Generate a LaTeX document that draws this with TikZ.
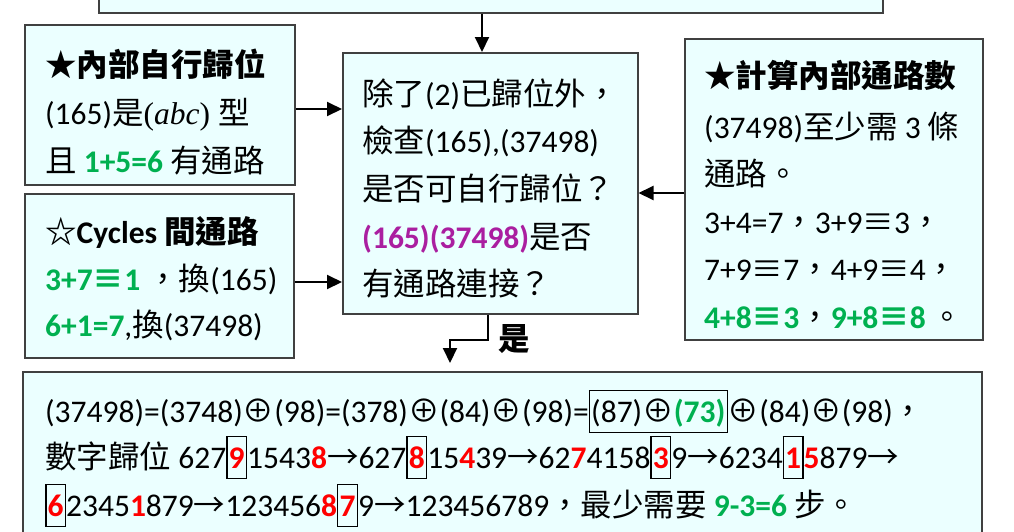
\documentclass[tikz,border=0pt]{standalone}
\usepackage{fontspec}
\setmainfont{Carlito}
\newfontfamily\cjk{Noto Sans CJK TC}[Scale=1.0]
\newfontfamily\tms{Liberation Serif}
\usetikzlibrary{arrows.meta}
\definecolor{gr}{HTML}{00B050}
\definecolor{rd}{HTML}{FF0000}
\definecolor{pu}{RGB}{170,30,160}
\definecolor{bxfill}{HTML}{EBFFFF}
\definecolor{bxline}{HTML}{404040}
\newcommand{\C}[1]{{\cjk #1}}
\newcommand{\G}[1]{\textcolor{gr}{\bfseries #1}}
\newcommand{\R}[1]{\textcolor{rd}{\bfseries #1}}
\newcommand{\B}[1]{{\setlength\fboxsep{1.2pt}\setlength\fboxrule{1.3pt}\fbox{\rule[-8.5pt]{0pt}{38pt}#1}}}
\tikzset{
  box/.style={draw=bxline, fill=bxfill, line width=1.5pt, rectangle, inner sep=0pt, anchor=north west},
  txt/.style={anchor=base west, inner sep=0pt, font=\fontsize{31.5}{36}\selectfont},
  arr/.style={line width=2pt, -{Triangle[length=15pt,width=14pt]}}
}
\begin{document}
\begin{tikzpicture}[x=1pt,y=-1pt]
\useasboundingbox (0,0) rectangle (1014,531);
\clip (0,0) rectangle (1014,531);
% boxes
\node[box, minimum width=784, minimum height=60] (top) at (98,-48) {};
\node[box, minimum width=270, minimum height=160] (b1) at (24,24) {};
\node[box, minimum width=269, minimum height=164] (b2) at (24,193) {};
\node[box, minimum width=295, minimum height=261] (center) at (342,52) {};
\node[box, minimum width=298, minimum height=301] (right) at (684,38) {};
\node[box, minimum width=959, minimum height=200] (bottom) at (22,371) {};
% box 1
\node[txt] (b1l1) at (45,76) {\C{\bfseries ★內部自行歸位}};
\node[txt] (b1l2) at (45,124) {(165)\C{是}{\tms (\textit{abc}) }\C{型}};
\node[txt] (b1l3) at (45,172) {\C{且} \G{1+5=6} \C{有通路}};
% box 2
\node[txt] (b2l1) at (45,243) {\C{\bfseries ☆}\textbf{Cycles} \C{\bfseries 間通路}};
\node[txt] (b2l2) at (45,290) {\G{3+7\C{≡}1} \C{，換}(165)};
\node[txt] (b2l3) at (45,336) {\G{6+1=7},\C{換}(37498)};
% center
\node[txt] (cl1) at (362,105) {\C{除了}(2)\C{已歸位外，}};
\node[txt] (cl2) at (362,152) {\C{檢查}(165),(37498)};
\node[txt] (cl3) at (362,200) {\C{是否可自行歸位？}};
\node[txt] (cl4) at (362,248) {\textcolor{pu}{\bfseries (165)(37498)}\C{是否}};
\node[txt] (cl5) at (362,295) {\C{有通路連接？}};
% right
\node[txt] (rl1) at (704,87) {\C{\bfseries ★計算內部通路數}};
\node[txt] (rl2) at (704,138) {(37498)\C{至少需} 3 \C{條}};
\node[txt] (rl3) at (704,185) {\C{通路。}};
\node[txt] (rl4) at (704,233) {3+4=7\C{，}3+9\C{≡}3\C{，}};
\node[txt] (rl5) at (704,280) {7+9\C{≡}7\C{，}4+9\C{≡}4\C{，}};
\node[txt] (rl6) at (704,328) {\G{4+8\C{≡}3}\C{，}\G{9+8\C{≡}8}\,\C{。}};
% bottom
\node[txt] (bl1) at (45,422) {(37498)=(3748)\C{⊕}(98)=(378)\C{⊕}(84)\C{⊕}(98)=\B{(87)\C{⊕}\G{(73)}}\C{⊕}(84)\C{⊕}(98)\C{，}};
\node[txt] (bl2) at (45,468) {\C{數字歸位} 627\B{\R{9}}1543\R{8}\C{→}627\B{\R{8}}15\R{4}39\C{→}62\R{7}4158\B{\R{3}}9\C{→}6234\B{\R{1}}\R{5}879\C{→}};
\node[txt] (bl3) at (45,516) {\B{\R{6}}2345\R{1}879\C{→}123456\R{8}\B{\R{7}}9\C{→}123456789\C{，最少需要} \G{9-3=6} \C{步。}};
% connectors
\draw[arr] (top.south -| 482,0) -- (center.north -| 482,0);
\draw[arr] (b1.east |- 0,109) -- (center.west |- 0,109);
\draw[arr] (b2.east |- 0,282) -- (center.west |- 0,282);
\draw[arr] (right.west |- 0,193) -- (center.east |- 0,193);
\draw[arr, shorten >=8pt] (center.south -| 488,0) -- ++(0,25) coordinate (bend) -| (bottom.north -| 450,0);
\node[txt] (yes) at (498,350) {\C{\bfseries 是}};
\end{tikzpicture}
\end{document}
